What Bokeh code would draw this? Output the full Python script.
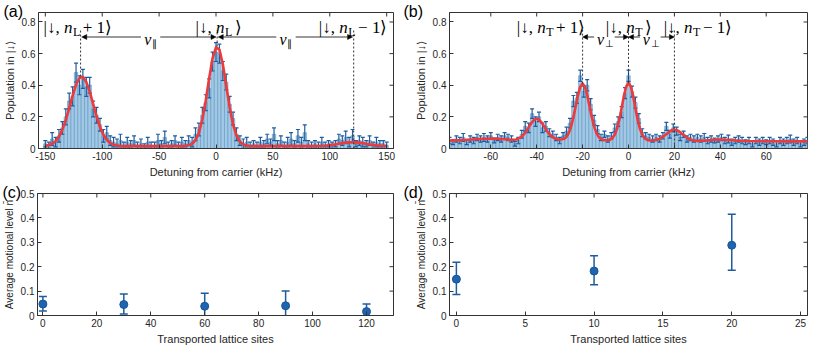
from math import pi
from bokeh.plotting import figure
from bokeh.models import (Range1d, LinearAxis, FixedTicker, Label, Arrow,
                          NormalHead, CustomJSTickFormatter)
from bokeh.layouts import column, row
from bokeh.embed import file_html
from bokeh.resources import INLINE

# ------------------------------------------------------------------ data
# (a) longitudinal sideband spectrum, bins every 3 kHz
a_x = list(range(-150, 151, 3))
a_val = [0.03, 0.02, 0.06, 0.04, 0.08, 0.13, 0.20, 0.30, 0.33, 0.48,
         0.40, 0.44, 0.39, 0.40, 0.25, 0.21, 0.15, 0.08, 0.10, 0.05,
         0.04, 0.03, 0.05, 0.02, 0.04, 0.03, 0.05, 0.02, 0.03, 0.01,
         0.04, 0.02, 0.02, 0.05, 0.03, 0.07, 0.02, 0.03, 0.05, 0.02,
         0.04, 0.03, 0.05, 0.04, 0.09, 0.12, 0.21, 0.29, 0.38, 0.55,
         0.61, 0.60, 0.49, 0.42, 0.28, 0.19, 0.09, 0.05, 0.03, 0.04,
         0.02, 0.03, 0.02, 0.04, 0.03, 0.06, 0.04, 0.09, 0.03, 0.05,
         0.02, 0.04, 0.06, 0.03, 0.08, 0.04, 0.10, 0.03, 0.02, 0.03,
         0.02, 0.04, 0.02, 0.03, 0.02, 0.03, 0.06, 0.05, 0.07, 0.04,
         0.08, 0.03, 0.05, 0.04, 0.03, 0.05, 0.02, 0.04, 0.03, 0.03,
         0.02]
a_err = [0.02, 0.02, 0.04, 0.03,
         0.04, 0.04, 0.05, 0.05, 0.06, 0.06, 0.06, 0.06, 0.06, 0.05,
         0.05, 0.05, 0.04, 0.04, 0.04, 0.03, 0.03, 0.03, 0.04,
         0.02, 0.03, 0.02, 0.03, 0.02, 0.03, 0.02, 0.03, 0.02, 0.02,
         0.04, 0.02, 0.04, 0.02, 0.02, 0.03, 0.02, 0.03, 0.02, 0.03,
         0.03, 0.04, 0.04, 0.05, 0.05, 0.06, 0.06, 0.06, 0.06, 0.06,
         0.05, 0.05, 0.04, 0.04, 0.03, 0.03,
         0.03, 0.02, 0.02, 0.02, 0.03, 0.02, 0.03, 0.02, 0.04, 0.02,
         0.03, 0.02, 0.03, 0.04, 0.02, 0.04, 0.03, 0.05, 0.02, 0.02,
         0.02, 0.02, 0.03, 0.02, 0.02, 0.02, 0.02, 0.03, 0.03, 0.04,
         0.03, 0.04, 0.02, 0.03, 0.03, 0.02, 0.03, 0.02, 0.03, 0.02,
         0.02, 0.02]
a_fit = [0.018, 0.022, 0.030, 0.046, 0.074, 0.119, 0.180, 0.255, 0.334, 0.403,
         0.446, 0.453, 0.421, 0.360, 0.282, 0.204, 0.137, 0.087, 0.054, 0.034,
         0.024, 0.019, 0.016,
         0.015, 0.015, 0.015, 0.015, 0.015, 0.015, 0.015, 0.015, 0.015, 0.015,
         0.015, 0.015, 0.015, 0.015, 0.015, 0.015, 0.015,
         0.015, 0.016, 0.020, 0.029, 0.053, 0.100, 0.183, 0.304, 0.445, 0.571,
         0.640, 0.625, 0.533, 0.397, 0.260, 0.151, 0.081, 0.043, 0.025, 0.018,
         0.016,
         0.015, 0.015, 0.015, 0.015, 0.015, 0.015, 0.015, 0.015, 0.015, 0.015,
         0.015, 0.015, 0.015, 0.015, 0.015, 0.015, 0.015, 0.015, 0.015,
         0.016, 0.017, 0.018, 0.020, 0.023, 0.026, 0.030, 0.034, 0.037, 0.039,
         0.040, 0.039, 0.037, 0.034, 0.030, 0.026, 0.023, 0.020, 0.018, 0.017,
         0.016]

# (b) transverse sideband spectrum, bins every 1.5 kHz
b_x = [round(-78 + 1.5 * i, 1) for i in range(105)]
b_val = [0.05, 0.04, 0.06, 0.05, 0.07, 0.04, 0.06, 0.05, 0.07, 0.06,
         0.07, 0.06, 0.08, 0.05, 0.07, 0.06, 0.08, 0.07, 0.06, 0.03,
         0.05, 0.09, 0.14, 0.13, 0.22, 0.17, 0.20, 0.13, 0.14, 0.10,
         0.09, 0.07, 0.05,
         0.08, 0.11, 0.16, 0.30, 0.32, 0.46, 0.36, 0.40, 0.28, 0.18,
         0.12, 0.07, 0.09,
         0.06, 0.08, 0.13, 0.17, 0.23, 0.35, 0.46, 0.36, 0.29, 0.19,
         0.10, 0.08, 0.07,
         0.06, 0.07, 0.06, 0.08, 0.14, 0.09, 0.13, 0.11, 0.07, 0.09,
         0.06, 0.07, 0.06,
         0.07, 0.06, 0.07, 0.05, 0.06, 0.05, 0.06, 0.07, 0.05, 0.06,
         0.04, 0.05, 0.06, 0.05, 0.04, 0.05, 0.03, 0.05, 0.04, 0.05,
         0.04, 0.05, 0.04, 0.03, 0.05, 0.04, 0.05, 0.06, 0.04, 0.05,
         0.03, 0.04, 0.05]
b_err = [0.02, 0.015, 0.02, 0.02, 0.025, 0.015, 0.02, 0.02, 0.02, 0.02,
         0.025, 0.02, 0.02, 0.015, 0.02, 0.02, 0.02, 0.02, 0.02, 0.015,
         0.02, 0.025, 0.03, 0.03, 0.03, 0.03, 0.03, 0.03, 0.03, 0.025,
         0.02, 0.02, 0.02,
         0.02, 0.025, 0.03, 0.035, 0.035, 0.035, 0.035, 0.035, 0.035, 0.03,
         0.025, 0.02, 0.02,
         0.02, 0.02, 0.025, 0.03, 0.035, 0.035, 0.035, 0.035, 0.035, 0.03,
         0.025, 0.02, 0.02,
         0.02, 0.02, 0.02, 0.02, 0.025, 0.025, 0.025, 0.025, 0.02, 0.02,
         0.02, 0.02, 0.02,
         0.02, 0.02, 0.025, 0.02, 0.02, 0.015, 0.02, 0.02, 0.02, 0.025,
         0.02, 0.02, 0.02, 0.02, 0.015, 0.02, 0.02, 0.02, 0.02, 0.02,
         0.015, 0.02, 0.02, 0.02, 0.02, 0.02, 0.02, 0.025, 0.02, 0.02,
         0.02, 0.02, 0.02]
b_fit_x = [-78, -74, -70, -65, -60, -55, -52, -50, -49, -48,
           -47, -46, -45, -44, -43, -42, -41, -40, -39, -38,
           -37, -36, -35, -34, -33, -32, -31, -30, -29, -28,
           -27, -26, -25, -24, -23, -22, -21, -20, -19, -18,
           -17, -16, -15, -14, -13, -12, -11, -10, -9, -8,
           -7, -6, -5, -4, -3, -2, -1, 0, 1, 2,
           3, 4, 5, 6, 7, 8, 9, 10, 11, 12,
           13, 14, 15, 16, 17, 18, 19, 20, 21, 22,
           23, 24, 25, 26, 27, 28, 29, 30, 32, 35,
           38, 40, 42, 45, 48, 52, 60, 70, 78]
b_fit = [0.050, 0.052, 0.055, 0.060, 0.063, 0.060, 0.056, 0.055, 0.057, 0.062,
         0.070, 0.082, 0.100, 0.122, 0.146, 0.167, 0.182, 0.188, 0.182, 0.167,
         0.146, 0.122, 0.100, 0.083, 0.071, 0.063, 0.059, 0.057, 0.058, 0.062,
         0.074, 0.099, 0.140, 0.198, 0.268, 0.338, 0.391, 0.410, 0.391, 0.338,
         0.268, 0.198, 0.140, 0.099, 0.074, 0.060, 0.054, 0.052, 0.052, 0.056,
         0.066, 0.087, 0.124, 0.181, 0.255, 0.333, 0.392, 0.415, 0.392, 0.333,
         0.255, 0.181, 0.124, 0.087, 0.066, 0.056, 0.052, 0.051, 0.052, 0.054,
         0.058, 0.065, 0.074, 0.085, 0.097, 0.109, 0.116, 0.119, 0.116, 0.109,
         0.097, 0.085, 0.073, 0.063, 0.056, 0.051, 0.049, 0.048, 0.049, 0.052,
         0.055, 0.056, 0.055, 0.052, 0.049, 0.047, 0.046, 0.045, 0.045]

# (c) and (d) mean motional level vs transported sites
c_x = [0, 30, 60, 90, 120]
c_y = [0.047, 0.045, 0.038, 0.040, 0.016]
c_lo = [0.018, 0.006, -0.02, -0.02, -0.02]
c_hi = [0.078, 0.088, 0.091, 0.100, 0.047]
d_x = [0, 10, 20]
d_y = [0.149, 0.182, 0.288]
d_lo = [0.086, 0.126, 0.185]
d_hi = [0.218, 0.245, 0.415]

# sideband positions (dashed markers) and their lower ends
a_lines = [-119, 1, 121]
a_line_bottom = [0.455, 0.645, 0.0]
b_lines = [-20, 0, 20]
b_line_bottom = [0.41, 0.415, 0.0]

for n1, n2 in ((a_val, a_x), (a_err, a_x), (a_fit, a_x), (b_val, b_x),
               (b_err, b_x), (b_fit, b_fit_x)):
    if len(n1) != len(n2):
        raise SystemExit("length mismatch %d %d" % (len(n1), len(n2)))

# ------------------------------------------------------------------ style
SANS = "Liberation Sans"
SERIF = "Liberation Serif"
AXC = "#333333"
TXT = "#262626"
BAR_FILL = "#a3c8e4"
BAR_LINE = "#5e98c6"
ERR = "#1f5c9e"
RED = "#ee3a3a"
DOT = "#1f64b0"

fmt_code = "return String(tick);"


def style_axis(ax, label, lsize):
    ax.major_tick_in = 4
    ax.major_tick_out = 0
    ax.minor_tick_in = 0
    ax.minor_tick_out = 0
    ax.axis_line_color = AXC
    ax.major_tick_line_color = AXC
    ax.axis_label = label
    ax.axis_label_text_font = SANS
    ax.axis_label_text_font_size = lsize
    ax.axis_label_text_font_style = "normal"
    ax.axis_label_text_color = TXT
    ax.axis_label_standoff = 3
    ax.major_label_text_font = SANS
    ax.major_label_text_font_size = "10px"
    ax.major_label_text_color = TXT
    ax.major_label_standoff = 3


def make_fig(w, h, xr, yr, xt, yt, xlabel, ylabel, bl, br, bt, bb, letter,
             loff, ylsize):
    p = figure(width=w, height=h, x_range=Range1d(*xr), y_range=Range1d(*yr),
               output_backend="svg", toolbar_location=None,
               x_axis_location=None, y_axis_location=None,
               min_border_left=bl, min_border_right=br,
               min_border_top=bt, min_border_bottom=bb, title=letter)
    # panel letter drawn by the title, pulled into the top-left corner
    p.title.align = "left"
    p.title.vertical_align = "top"
    p.title.offset = loff
    p.title.standoff = -18
    p.title.text_font = SANS
    p.title.text_font_size = "16px"
    p.title.text_font_style = "normal"
    p.title.text_color = "black"
    ax = LinearAxis(ticker=FixedTicker(ticks=xt),
                    formatter=CustomJSTickFormatter(code=fmt_code))
    style_axis(ax, xlabel, "11px")
    p.add_layout(ax, "below")
    ay = LinearAxis(ticker=FixedTicker(ticks=yt),
                    formatter=CustomJSTickFormatter(code=fmt_code))
    style_axis(ay, ylabel, ylsize)
    p.add_layout(ay, "left")
    # mirrored inward ticks on the top and right edges (clipped to frame)
    p.scatter(x=[xr[1]] * len(yt), y=yt, marker="dash", size=8,
              line_color=AXC, line_width=1)
    p.scatter(x=xt, y=[yr[1]] * len(xt), marker="dash", angle=pi / 2,
              size=8, line_color=AXC, line_width=1)
    p.grid.visible = False
    p.outline_line_color = AXC
    p.background_fill_color = "white"
    p.border_fill_color = "white"
    return p


EM = {'|': 0.2, '↓': 0.5, ',': 0.25, ' ': 0.25, 'n': 0.5, 'L': 0.611,
      'T': 0.611, '+': 0.564, '−': 0.564, '1': 0.5, '⟩': 0.36, 'ν': 0.46,
      '∥': 0.5, '⊥': 0.7}


def tw(t, s):
    return sum(EM.get(c, 0.5) for c in t) * s


def rich(p, x, y, pieces):
    total = sum(tw(t, s) + g for t, s, st, dy, g in pieces)
    off = -total / 2
    for t, s, st, dy, g in pieces:
        p.add_layout(Label(x=x, y=y, x_offset=off, y_offset=dy, text=t,
                           text_font=SERIF, text_font_size="%dpx" % s,
                           text_font_style=st, text_color="black",
                           text_align="left", text_baseline="alphabetic"))
        off += tw(t, s) + g


def ket(p, x, y, sub, tail):
    rich(p, x, y, [("|↓, ", 17, "normal", 0, 0), ("n", 17, "italic", 0, 0.5),
                   (sub, 12, "normal", -4, 2.5), (tail, 17, "normal", 0, 0)])


def nu(p, x, y, sub):
    rich(p, x, y, [("ν", 16, "italic", 0, 0.5), (sub, 10, "normal", -4, 0)])


def arrow(p, x0, x1, y):
    p.add_layout(Arrow(end=NormalHead(size=5, fill_color="black",
                                      line_color="black", line_width=0.5),
                       x_start=x0, y_start=y, x_end=x1, y_end=y,
                       line_color="black", line_width=0.8))


def errorbars(p, xs, lo, hi, cap, width):
    p.segment(x0=xs, y0=lo, x1=xs, y1=hi, line_color=ERR, line_width=width)
    p.scatter(x=xs, y=hi, marker="dash", size=cap, line_color=ERR,
              line_width=width)
    p.scatter(x=xs, y=lo, marker="dash", size=cap, line_color=ERR,
              line_width=width)


H_TOP, H_BOT = 182, 165

# ------------------------------------------------------------------ (a)
YL_A = "Population in |↓⟩"
XL_A = "Detuning from carrier (kHz)"
pa = make_fig(401, H_TOP, (-156, 156), (0, 0.86),
              [-150, -100, -50, 0, 50, 100, 150], [0, 0.2, 0.4, 0.6, 0.8],
              XL_A, YL_A, 35, 8, 12, 34, "(a)", -35, "11px")
pa.vbar(x=a_x, top=a_val, bottom=0, width=3, fill_color=BAR_FILL,
        line_color=BAR_LINE, line_width=0.6)
errorbars(pa, a_x, [v - e for v, e in zip(a_val, a_err)],
          [v + e for v, e in zip(a_val, a_err)], 4, 1.2)
pa.line(a_x, a_fit, line_color=RED, line_width=2.6, line_join="round")
pa.segment(x0=a_lines, y0=a_line_bottom, x1=a_lines,
           y1=[0.75] * len(a_lines), line_color="#333333", line_width=1,
           line_dash="2 2")
ket(pa, -120, 0.765, "L", " + 1⟩")
ket(pa, 2, 0.765, "L", "⟩")
ket(pa, 122, 0.765, "L", " − 1⟩")
nu(pa, -57.5, 0.69, "∥")
nu(pa, 61.5, 0.69, "∥")
arrow(pa, -66, -118, 0.705)
arrow(pa, -49, 0, 0.705)
arrow(pa, 53, 2, 0.705)
arrow(pa, 70, 120, 0.705)

# ------------------------------------------------------------------ (b)
pb = make_fig(410, H_TOP, (-78, 78), (0, 0.86),
              [-60, -40, -20, 0, 20, 40, 60], [0, 0.2, 0.4, 0.6, 0.8],
              XL_A, YL_A, 48, 4, 12, 34, "(b)", -46, "11px")
pb.vbar(x=b_x, top=b_val, bottom=0, width=1.5, fill_color=BAR_FILL,
        line_color=BAR_LINE, line_width=0.6)
errorbars(pb, b_x, [v - e for v, e in zip(b_val, b_err)],
          [v + e for v, e in zip(b_val, b_err)], 4, 1.2)
pb.line(b_fit_x, b_fit, line_color=RED, line_width=2.6, line_join="round")
pb.segment(x0=b_lines, y0=b_line_bottom, x1=b_lines,
           y1=[0.75] * len(b_lines), line_color="#333333", line_width=1,
           line_dash="2 2")
ket(pb, -33, 0.765, "T", " + 1⟩")
ket(pb, 0, 0.765, "T", "⟩")
ket(pb, 31, 0.765, "T", " − 1⟩")
nu(pb, -10.5, 0.69, "⊥")
nu(pb, 9.5, 0.69, "⊥")
arrow(pb, -15, -20, 0.705)
arrow(pb, -6, 0, 0.705)
arrow(pb, 5, 0, 0.705)
arrow(pb, 14, 20, 0.705)

# ------------------------------------------------------------------ (c)
YL_C = "Average motional level n̄"
XL_C = "Transported lattice sites"
pc = make_fig(401, H_BOT, (-2, 130), (0, 0.5),
              [0, 20, 40, 60, 80, 100, 120], [0, 0.1, 0.2, 0.3, 0.4, 0.5],
              XL_C, YL_C, 35, 8, 11, 28, "(c)", -35, "10px")
errorbars(pc, c_x, c_lo, c_hi, 8, 1.5)
pc.scatter(c_x, c_y, marker="circle", size=8, fill_color=DOT,
           line_color="#1a5599")

# ------------------------------------------------------------------ (d)
pd = make_fig(410, H_BOT, (-0.5, 25.5), (0, 0.5),
              [0, 5, 10, 15, 20, 25], [0, 0.1, 0.2, 0.3, 0.4, 0.5],
              XL_C, YL_C, 48, 4, 11, 28, "(d)", -46, "10px")
errorbars(pd, d_x, d_lo, d_hi, 8, 1.5)
pd.scatter(d_x, d_y, marker="circle", size=8, fill_color=DOT,
           line_color="#1a5599")

layout = column(row(pa, pb), row(pc, pd))
open("out.html", "w").write(file_html(layout, INLINE))
